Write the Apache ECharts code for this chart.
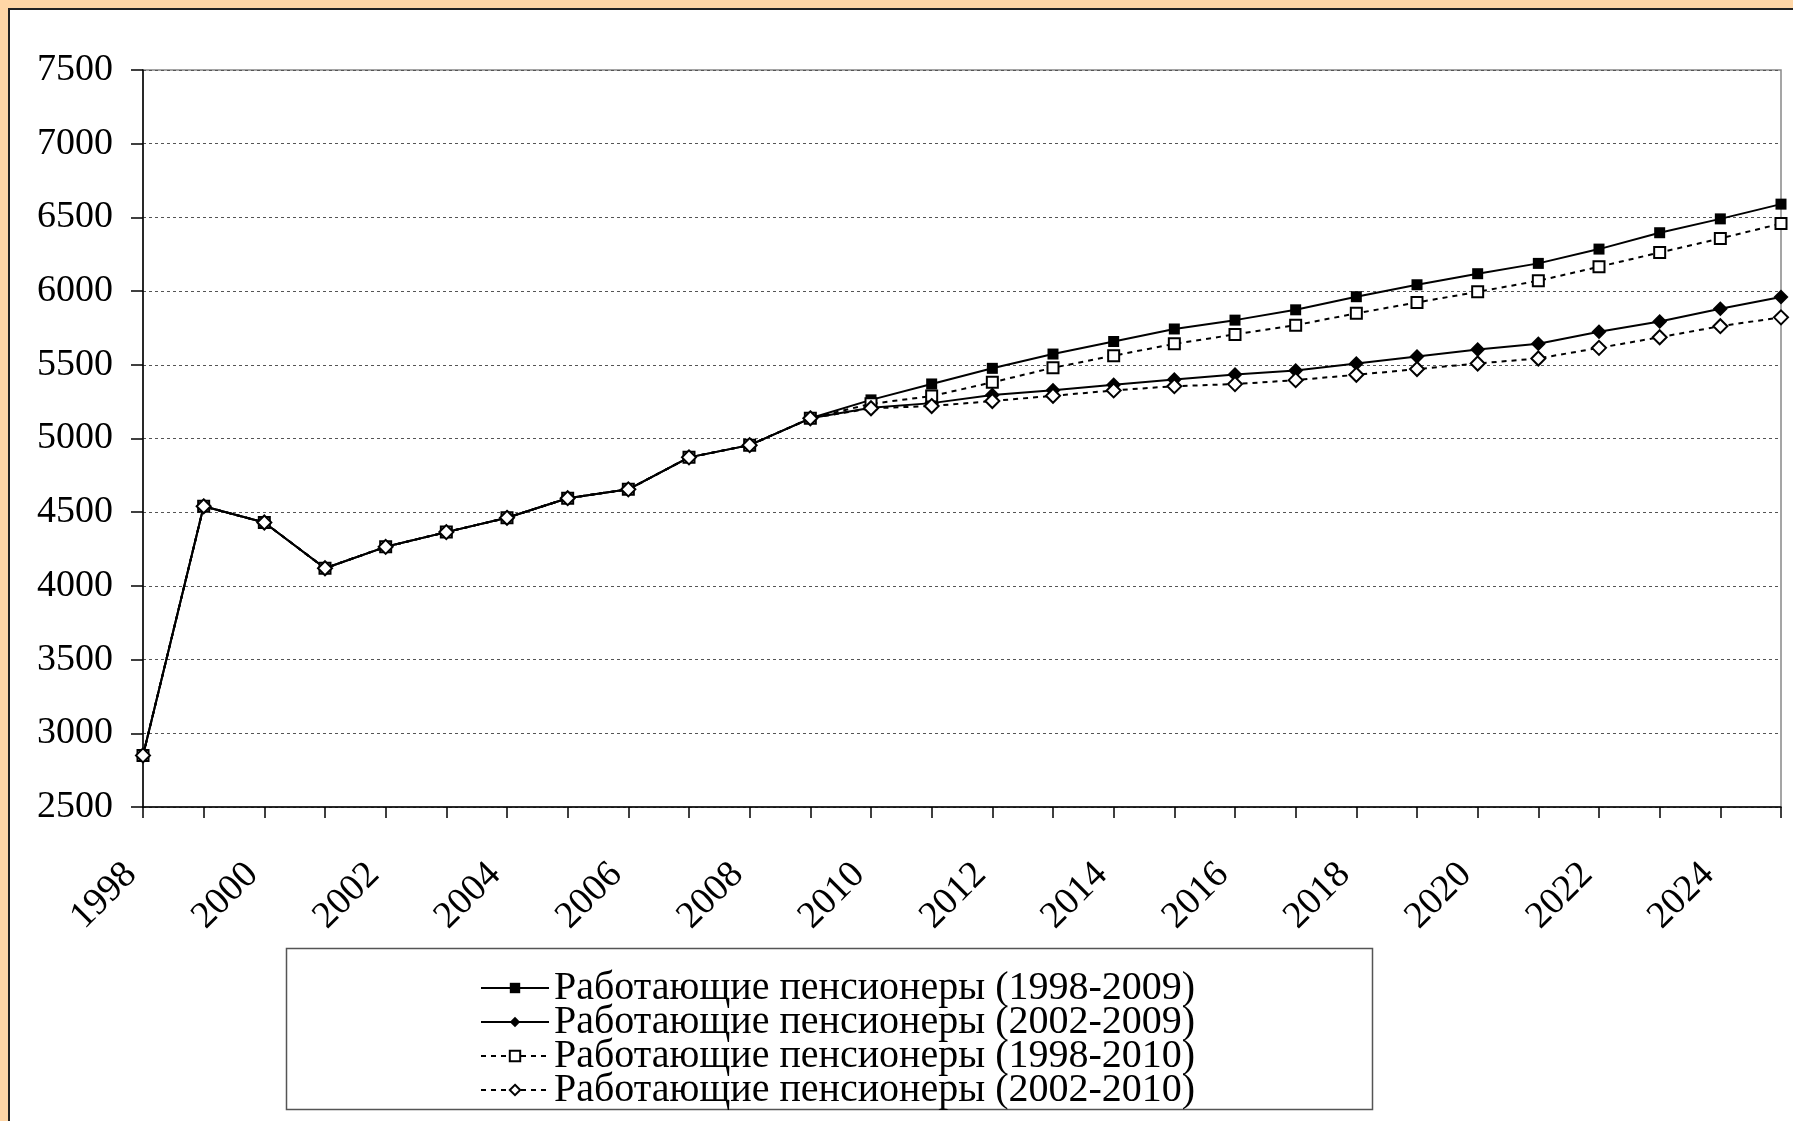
<!DOCTYPE html>
<html>
<head>
<meta charset="utf-8">
<script src="https://cdn.jsdelivr.net/npm/echarts@6/dist/echarts.min.js"></script>
<style>
  html, body { margin: 0; padding: 0; background: #FFD6A6; }
  #chart { width: 1793px; height: 1121px; }
</style>
</head>
<body>
<div id="chart"></div>
<script>
// годы по оси X
const years = ['1998', '1999', '2000', '2001', '2002', '2003', '2004', '2005', '2006', '2007',
  '2008', '2009', '2010', '2011', '2012', '2013', '2014', '2015', '2016', '2017',
  '2018', '2019', '2020', '2021', '2022', '2023', '2024', '2025']

const seriesNames = [
  'Работающие пенсионеры (1998-2009)',
  'Работающие пенсионеры (2002-2009)',
  'Работающие пенсионеры (1998-2010)',
  'Работающие пенсионеры (2002-2010)'
]

const s1998_2009 = [2850, 4540, 4430, 4120, 4265, 4365, 4462, 4595, 4655, 4872, 4955, 5137,
  5262, 5370, 5476, 5573, 5658, 5743, 5803, 5873, 5962, 6043, 6118, 6188, 6285, 6396, 6490, 6590]
const s2002_2009 = [2850, 4540, 4430, 4120, 4265, 4365, 4462, 4595, 4655, 4872, 4955, 5137,
  5208, 5240, 5295, 5328, 5365, 5401, 5435, 5462, 5509, 5556, 5604, 5643, 5724, 5794, 5880, 5960]
const s1998_2010 = [2850, 4540, 4430, 4120, 4265, 4365, 4462, 4595, 4655, 4872, 4955, 5137,
  5235, 5288, 5381, 5480, 5562, 5642, 5706, 5769, 5849, 5923, 5995, 6070, 6165, 6262, 6357, 6458]
const s2002_2010 = [2850, 4540, 4430, 4120, 4265, 4365, 4462, 4595, 4655, 4872, 4955, 5137,
  5205, 5220, 5254, 5290, 5326, 5355, 5369, 5396, 5432, 5471, 5509, 5543, 5615, 5687, 5762, 5822]

const yMin = 2500
const yMax = 7500
const yStep = 500

const font = 'Liberation Serif, Times New Roman, serif'

let myChart = echarts.init(document.getElementById('chart'))

function lineSeries (name, data, symbol, size, filled, dashed) {
  return {
    name: name,
    type: 'line',
    data: data,
    symbol: symbol,
    symbolSize: size,
    showAllSymbol: true,
    animation: false,
    lineStyle: {
      color: '#000',
      width: 2,
      type: dashed ? [5, 5] : 'solid'
    },
    itemStyle: {
      color: filled ? '#000' : '#fff',
      borderColor: '#000',
      borderWidth: filled ? 0 : 2
    },
    emphasis: { disabled: true }
  }
}

myChart.setOption({
  backgroundColor: '#FFD6A6',
  animation: false,
  graphic: [
    {
      type: 'rect',
      z: -10,
      silent: true,
      shape: { x: 9, y: 9, width: 1800, height: 1130 },
      style: { fill: '#fff', stroke: '#222', lineWidth: 2 }
    },
    {
      type: 'rect',
      z: -5,
      silent: true,
      shape: { x: 286.5, y: 948.5, width: 1086, height: 161 },
      style: { fill: '#fff', stroke: '#555', lineWidth: 1.5 }
    }
  ],
  grid: {
    left: 143,
    right: 12,
    top: 70,
    bottom: 314,
    show: true,
    backgroundColor: 'transparent',
    borderColor: '#888',
    borderWidth: 1.5
  },
  legend: {
    orient: 'vertical',
    left: 475,
    top: 963,
    height: 200,
    itemWidth: 68,
    itemHeight: 13,
    itemGap: -6,
    textStyle: {
      fontFamily: font,
      fontSize: 40,
      color: '#000'
    },
    data: seriesNames
  },
  xAxis: {
    type: 'category',
    boundaryGap: false,
    data: years,
    axisLine: { lineStyle: { color: '#000', width: 1.5 } },
    axisTick: {
      alignWithLabel: true,
      interval: 0,
      length: 11,
      lineStyle: { color: '#000', width: 1.5 }
    },
    axisLabel: {
      interval: 1,
      rotate: 45,
      margin: 50,
      padding: [0, 17, 0, 0],
      fontFamily: font,
      fontSize: 38,
      color: '#000'
    },
    splitLine: { show: false }
  },
  yAxis: {
    type: 'value',
    min: yMin,
    max: yMax,
    interval: yStep,
    axisLine: { show: true, lineStyle: { color: '#000', width: 1.5 } },
    axisTick: { show: true, length: 12, lineStyle: { color: '#000', width: 1.5 } },
    axisLabel: {
      margin: 30,
      fontFamily: font,
      fontSize: 38,
      color: '#000',
      formatter: v => String(v)
    },
    splitLine: {
      show: true,
      lineStyle: { color: '#555', width: 1, type: [3, 3] }
    }
  },
  series: [
    lineSeries(seriesNames[0], s1998_2009, 'rect', 11, true, false),
    lineSeries(seriesNames[1], s2002_2009, 'diamond', 15, true, false),
    lineSeries(seriesNames[2], s1998_2010, 'rect', 11, false, true),
    lineSeries(seriesNames[3], s2002_2010, 'diamond', 14, false, true)
  ]
})
</script>
</body>
</html>
